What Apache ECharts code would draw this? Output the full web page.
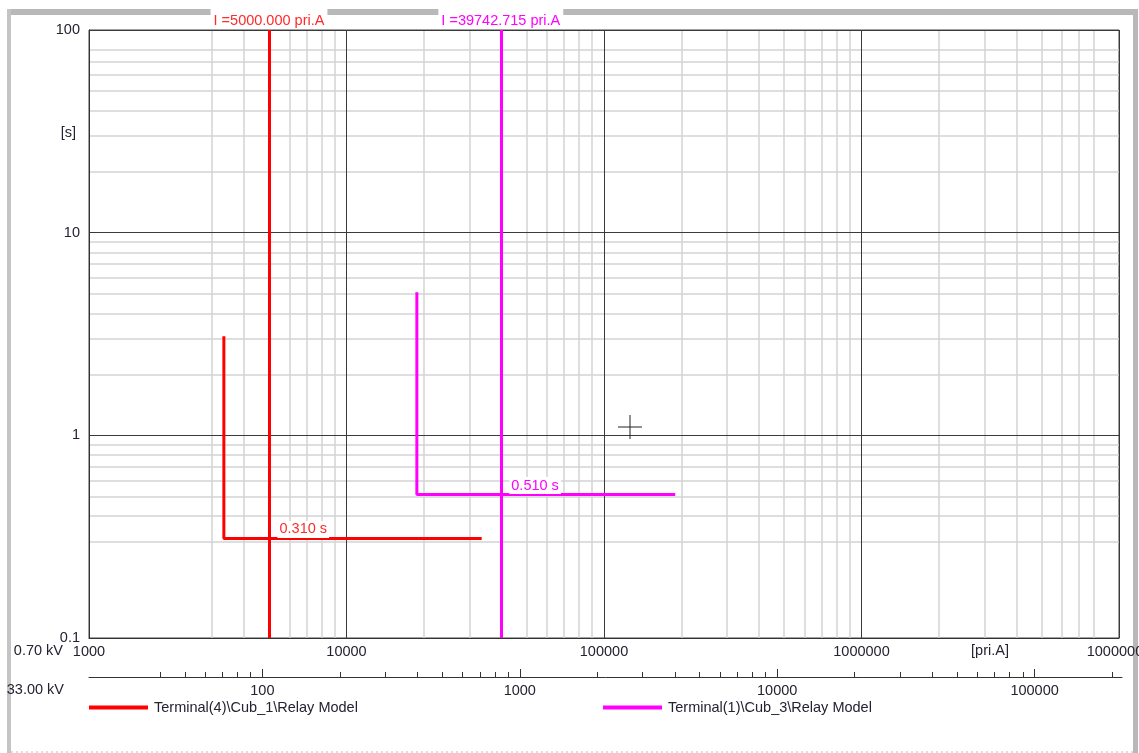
<!DOCTYPE html>
<html><head><meta charset="utf-8">
<script src="https://cdn.jsdelivr.net/npm/echarts@6/dist/echarts.min.js"></script>
<style>html,body{margin:0;padding:0;background:#fff;overflow:hidden}#c{width:1139px;height:753px}</style>
</head><body><div id="c"></div>
<script>
// ---------------- data ----------------
const relay1Name = 'Terminal(4)\\Cub_1\\Relay Model';
const relay2Name = 'Terminal(1)\\Cub_3\\Relay Model';
// [current pri.A @0.70 kV, time s]
const relay1Curve = [[3340, 3.08], [3340, 0.31], [33500, 0.31]];
const relay2Curve = [[18760, 5.08], [18760, 0.51], [189000, 0.51]];
const relay1Pickup = 5000;
const relay2Pickup = 39742.715;
const relay1PickupLabel = 'I =5000.000 pri.A';
const relay2PickupLabel = 'I =39742.715 pri.A';
const relay1Time = 0.31;
const relay2Time = 0.51;
const relay1TimeLabel = '0.310 s';
const relay2TimeLabel = '0.510 s';

// axes (0.70 kV current axis, time axis, 33.00 kV current axis)
const xMin = 1000, xMax = 10000000;
const yMin = 0.1, yMax = 100;
const xMinorGrid = [2000,3000,4000,5000,6000,7000,8000,9000,
  20000,30000,40000,50000,60000,70000,80000,90000,
  200000,300000,400000,500000,600000,700000,800000,900000,
  2000000,3000000,4000000,5000000,6000000,7000000,8000000,9000000];
const yMinorGrid = [0.2,0.3,0.4,0.5,0.6,0.7,0.8,0.9,2,3,4,5,6,7,8,9,20,30,40,50,60,70,80,90];
const hvMin = 21.2121, hvMax = 218500;   // 33.00 kV axis extent
const hvMajorTicks = [100, 1000, 10000, 100000];
const hvMinorTicks = [40,50,60,70,80,90,200,300,400,500,600,700,800,900,
  2000,3000,4000,5000,6000,7000,8000,9000,20000,30000,40000,50000,60000,70000,80000,90000,200000];

// ---------------- chart ----------------
const FONT = '"Liberation Sans", Arial, sans-serif';
const FS = 14.5;
const TXT = '#232332';
const RED = '#ff0000', MAG = '#ff00ff';
const chart = echarts.init(document.getElementById('c'), null, {renderer: 'canvas'});
const fmt = v => String(v);

const option = {
  animation: false,
  backgroundColor: '#fff',
  textStyle: {fontFamily: FONT},
  grid: [
    {left: 89, top: 30, width: 1030, height: 608, outerBoundsMode: 'none', containLabel: false,
      show: true, borderColor: '#444', borderWidth: 1, backgroundColor: 'transparent'},
    {left: 89, top: 676, width: 1033, height: 1, outerBoundsMode: 'none', containLabel: false}
  ],
  xAxis: [
    {type: 'log', gridIndex: 0, min: xMin, max: xMax, position: 'bottom', z: 1,
      axisLine: {show: true, lineStyle: {color: '#333', width: 1}},
      axisTick: {show: false},
      axisLabel: {show: true, formatter: fmt, fontSize: FS, color: TXT, margin: 6, fontFamily: FONT, showMinLabel: true, showMaxLabel: true, hideOverlap: false},
      splitLine: {show: true, lineStyle: {color: '#3a3a3a', width: 1}}},
    {type: 'log', gridIndex: 0, min: xMin, max: xMax, position: 'top', z: 0,
      axisLine: {show: false}, axisLabel: {show: false},
      axisTick: {show: false, customValues: xMinorGrid},
      splitLine: {show: true, showMinLine: false, showMaxLine: false, lineStyle: {color: '#d3d3d3', width: 1.5}}},
    {type: 'log', gridIndex: 1, min: hvMin, max: hvMax, position: 'bottom',
      axisLine: {show: true, lineStyle: {color: '#333', width: 1}},
      axisTick: {show: true, inside: true, length: 8, customValues: hvMajorTicks, lineStyle: {color: '#333'}},
      axisLabel: {show: true, customValues: hvMajorTicks, formatter: fmt, fontSize: FS, color: TXT, margin: 6, fontFamily: FONT},
      splitLine: {show: false}},
    {type: 'log', gridIndex: 1, min: hvMin, max: hvMax, position: 'bottom',
      axisLine: {show: false},
      axisTick: {show: true, inside: true, length: 5, customValues: hvMinorTicks, lineStyle: {color: '#333'}},
      axisLabel: {show: false}, splitLine: {show: false}}
  ],
  yAxis: [
    {type: 'log', gridIndex: 0, min: yMin, max: yMax, position: 'left', z: 1,
      axisLine: {show: true, lineStyle: {color: '#333', width: 1}},
      axisTick: {show: false},
      axisLabel: {show: true, formatter: fmt, fontSize: FS, color: TXT, margin: 9, fontFamily: FONT},
      splitLine: {show: true, lineStyle: {color: '#3a3a3a', width: 1}}},
    {type: 'log', gridIndex: 0, min: yMin, max: yMax, position: 'right', z: 0,
      axisLine: {show: false}, axisLabel: {show: false},
      axisTick: {show: false, customValues: yMinorGrid},
      splitLine: {show: true, showMinLine: false, showMaxLine: false, lineStyle: {color: '#d3d3d3', width: 1.5}}},
    {type: 'value', gridIndex: 1, show: false}
  ],
  legend: [
    {data: [relay1Name], left: 89, top: 700, icon: 'rect', itemWidth: 59, itemHeight: 4, itemGap: 6, selectedMode: false, padding: 0,
      textStyle: {fontSize: FS, color: TXT, fontFamily: FONT, padding: [0, 0, 0, 1]}},
    {data: [relay2Name], left: 603, top: 700, icon: 'rect', itemWidth: 59, itemHeight: 4, itemGap: 6, selectedMode: false, padding: 0,
      textStyle: {fontSize: FS, color: TXT, fontFamily: FONT, padding: [0, 0, 0, 1]}}
  ],
  series: [
    {type: 'line', name: relay1Name, xAxisIndex: 0, yAxisIndex: 0, data: relay1Curve, symbol: 'none', color: RED, z: 3,
      lineStyle: {color: RED, width: 3}, silent: true,
      markLine: {silent: true, symbol: ['none', 'none'], animation: false,
        lineStyle: {color: RED, width: 3, type: 'solid'},
        label: {show: true, position: 'end', formatter: relay1PickupLabel, color: '#ff2a2a', fontSize: FS, fontFamily: FONT,
          backgroundColor: '#fff', padding: [4, 3, 1, 3], distance: 1},
        data: [{xAxis: relay1Pickup}]},
      markPoint: {silent: true, symbol: 'circle', symbolSize: 1, itemStyle: {color: 'rgba(0,0,0,0)'}, animation: false,
        label: {show: true, position: 'right', distance: 8, offset: [0, -9], formatter: relay1TimeLabel, color: '#ff2a2a', fontSize: FS, fontFamily: FONT,
          backgroundColor: '#fff', padding: [1, 2]},
        data: [{coord: [relay1Pickup, relay1Time]}]}},
    {type: 'line', name: relay2Name, xAxisIndex: 0, yAxisIndex: 0, data: relay2Curve, symbol: 'none', color: MAG, z: 3,
      lineStyle: {color: MAG, width: 3}, silent: true,
      markLine: {silent: true, symbol: ['none', 'none'], animation: false,
        lineStyle: {color: MAG, width: 3, type: 'solid'},
        label: {show: true, position: 'end', formatter: relay2PickupLabel, color: MAG, fontSize: FS, fontFamily: FONT,
          backgroundColor: '#fff', padding: [4, 3, 1, 3], distance: 1},
        data: [{xAxis: relay2Pickup}]},
      markPoint: {silent: true, symbol: 'circle', symbolSize: 1, itemStyle: {color: 'rgba(0,0,0,0)'}, animation: false,
        label: {show: true, position: 'right', distance: 8, offset: [0, -9], formatter: relay2TimeLabel, color: MAG, fontSize: FS, fontFamily: FONT,
          backgroundColor: '#fff', padding: [1, 2]},
        data: [{coord: [relay2Pickup, relay2Time]}]}}
  ],
  graphic: [
    // outer dotted frame
    {type: 'rect', z: -10, shape: {x: 7, y: 9, width: 1131, height: 6}, style: {fill: '#b8b8b8'}},
    {type: 'rect', z: -10, shape: {x: 7, y: 9, width: 4, height: 744}, style: {fill: '#c4c4c4'}},
    {type: 'rect', z: -10, shape: {x: 1133, y: 9, width: 5, height: 744}, style: {fill: '#b8b8b8'}},
    {type: 'line', z: -10, shape: {x1: 11, y1: 752, x2: 1133, y2: 752}, style: {stroke: '#bbb', lineWidth: 1, lineDash: [2, 3]}},
    // texts
    {type: 'text', x: 63, y: 651, style: {text: '0.70 kV', fontSize: FS, fontFamily: FONT, fill: TXT, align: 'right', verticalAlign: 'middle'}},
    {type: 'text', x: 64, y: 690, style: {text: '33.00 kV', fontSize: FS, fontFamily: FONT, fill: TXT, align: 'right', verticalAlign: 'middle'}},
    {type: 'text', x: 990, y: 651, style: {text: '[pri.A]', fontSize: FS, fontFamily: FONT, fill: TXT, align: 'center', verticalAlign: 'middle'}},
    {type: 'text', x: 76, y: 133, style: {text: '[s]', fontSize: FS, fontFamily: FONT, fill: TXT, align: 'right', verticalAlign: 'middle'}},
    // cursor cross
    {type: 'line', z: 20, shape: {x1: 618, y1: 427, x2: 642, y2: 427}, style: {stroke: '#222', lineWidth: 1}},
    {type: 'line', z: 20, shape: {x1: 630, y1: 415, x2: 630, y2: 439}, style: {stroke: '#222', lineWidth: 1}}
  ]
};
chart.setOption(option);
</script>
</body></html>
